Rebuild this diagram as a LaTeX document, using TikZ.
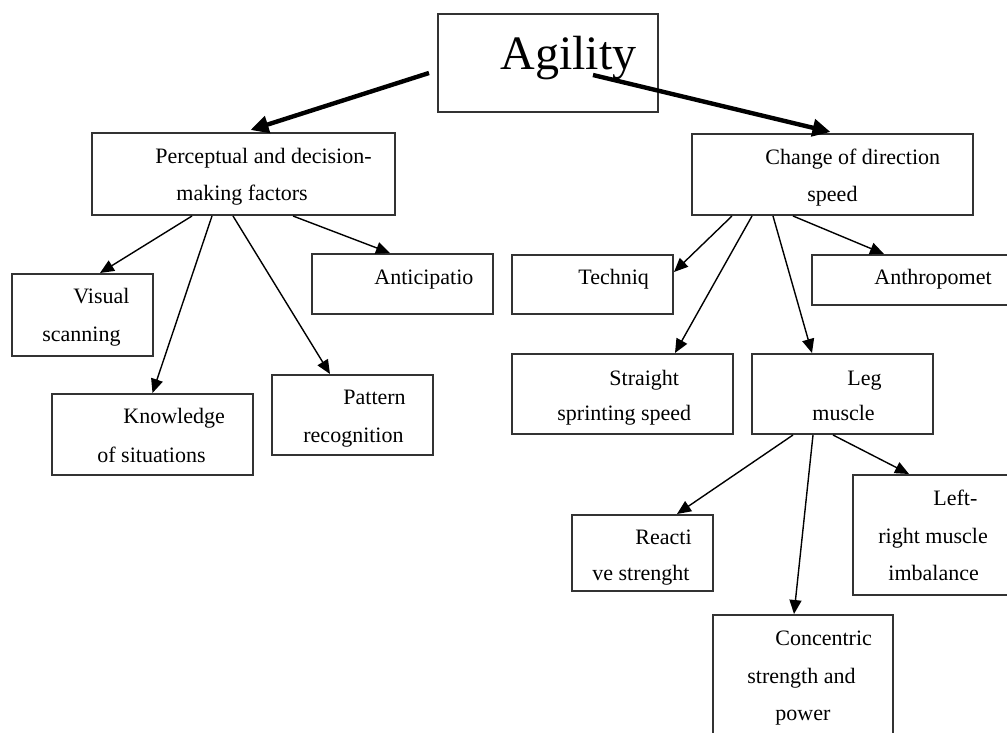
\documentclass[tikz,border=0pt]{standalone}
\usepackage{fontspec}
\setmainfont{Liberation Serif}
\usetikzlibrary{arrows.meta,calc}

\begin{document}
\begin{tikzpicture}[x=0.5pt,y=-0.5pt,
  box/.style={draw=black!80,line width=1pt,rectangle,inner sep=0pt},
  txt/.style={anchor=base west,inner sep=0pt,font=\fontsize{11}{13}\selectfont},
  arr/.style={-{Triangle[length=7pt,width=6pt]},line width=0.7pt},
  bigarr/.style={-{Triangle[length=9pt,width=8.5pt]},line width=2.2pt}]
\useasboundingbox (0,0) rectangle (1007,733);
\clip (0,0) rectangle (1007,733);
% Boxes
\node[box,minimum width=110pt,minimum height=49pt] (agility) at (548,63) {};
\node[box,minimum width=151.5pt,minimum height=41pt] (percep) at (243.5,174) {};
\node[box,minimum width=70.5pt,minimum height=41pt] (visual) at (82.5,315) {};
\node[box,minimum width=100.5pt,minimum height=40.5pt] (knowl) at (152.5,434.5) {};
\node[box,minimum width=80.5pt,minimum height=40pt] (pattern) at (352.5,415) {};
\node[box,minimum width=90.5pt,minimum height=30pt] (antic) at (402.5,284) {};
\node[box,minimum width=140.5pt,minimum height=40.5pt] (cod) at (832.5,174.5) {};
\node[box,minimum width=80.5pt,minimum height=29.5pt] (techniq) at (592.5,284.5) {};
\node[box,minimum width=104pt,minimum height=25pt] (anthro) at (916,280) {};
\node[box,minimum width=110.5pt,minimum height=40pt] (sprint) at (622.5,394) {};
\node[box,minimum width=90.5pt,minimum height=40pt] (leg) at (842.5,394) {};
\node[box,minimum width=70.5pt,minimum height=38pt] (react) at (642.5,553) {};
\node[box,minimum width=83.5pt,minimum height=60pt] (lrimb) at (936.5,535) {};
\node[box,minimum width=90pt,minimum height=72.5pt] (conc) at (803,687.5) {};
% Texts
\node[anchor=base west,inner sep=0pt,font=\fontsize{24}{28}\selectfont] (t-agility) at (500,70) {Agility};
\node[txt] (t-percep1) at (155,163) {Perceptual and decision-};
\node[txt] (t-percep2) at (176,200) {making factors};
\node[txt] (t-visual1) at (73,303) {Visual};
\node[txt] (t-visual2) at (42,341) {scanning};
\node[txt] (t-knowl1) at (123,423) {Knowledge};
\node[txt] (t-knowl2) at (97,462) {of situations};
\node[txt] (t-pattern1) at (343,404) {Pattern};
\node[txt] (t-pattern2) at (303,442) {recognition};
\node[txt] (t-antic) at (374,284) {Anticipatio};
\node[txt] (t-cod1) at (765,164) {Change of direction};
\node[txt] (t-cod2) at (807,201) {speed};
\node[txt] (t-techniq) at (578,284) {Techniq};
\node[txt] (t-anthro) at (874,284) {Anthropomet};
\node[txt] (t-sprint1) at (609,385) {Straight};
\node[txt] (t-sprint2) at (557,420) {sprinting speed};
\node[txt] (t-leg1) at (847,385) {Leg};
\node[txt] (t-leg2) at (812,420) {muscle};
\node[txt] (t-react1) at (635,544) {Reacti};
\node[txt] (t-react2) at (592,580) {ve strenght};
\node[txt] (t-lrimb1) at (933,505) {Left-};
\node[txt] (t-lrimb2) at (878,543) {right muscle};
\node[txt] (t-lrimb3) at (888,580) {imbalance};
\node[txt] (t-conc1) at (775,645) {Concentric};
\node[txt] (t-conc2) at (747,683) {strength and};
\node[txt] (t-conc3) at (775,720) {power};
% Thick arrows from the top box
\draw[bigarr] ($(agility.west)+(-8,10)$) -- ($(percep.north)+(7,-2)$);
\draw[bigarr] ($(agility.center)+(45,12)$) -- ($(cod.north)+(-2,-1)$);
% Perceptual branch
\draw[arr] ($(percep.south)+(-51.5,0)$) -- ($(visual.north)+(17.5,0)$);
\draw[arr] ($(percep.south)+(-31.5,0)$) -- (knowl.north);
\draw[arr] ($(percep.south)+(-10.5,0)$) -- ($(pattern.north)+(-22.5,0)$);
\draw[arr] ($(percep.south)+(49.5,0)$) -- ($(antic.north)+(-12.5,0)$);
% Change of direction branch
\draw[arr] ($(cod.south)+(-100.5,0)$) -- ($(techniq.east)+(0,-12.5)$);
\draw[arr] ($(cod.south)+(-80.5,0)$) -- ($(sprint.north)+(52.5,0)$);
\draw[arr] ($(cod.south)+(-59.5,0)$) -- ($(leg.north)+(-30.5,0)$);
\draw[arr] ($(cod.south)+(-39.5,0)$) -- ($(anthro.north west)+(73,0)$);
% Leg muscle branch
\draw[arr] ($(leg.south)+(-49.5,0)$) -- ($(react.north)+(34.5,0)$);
\draw[arr] ($(leg.south)+(-29.5,0)$) -- ($(conc.north west)+(82,0)$);
\draw[arr] ($(leg.south)+(-9.5,0)$) -- ($(lrimb.north west)+(57,0)$);
\end{tikzpicture}
\end{document}
